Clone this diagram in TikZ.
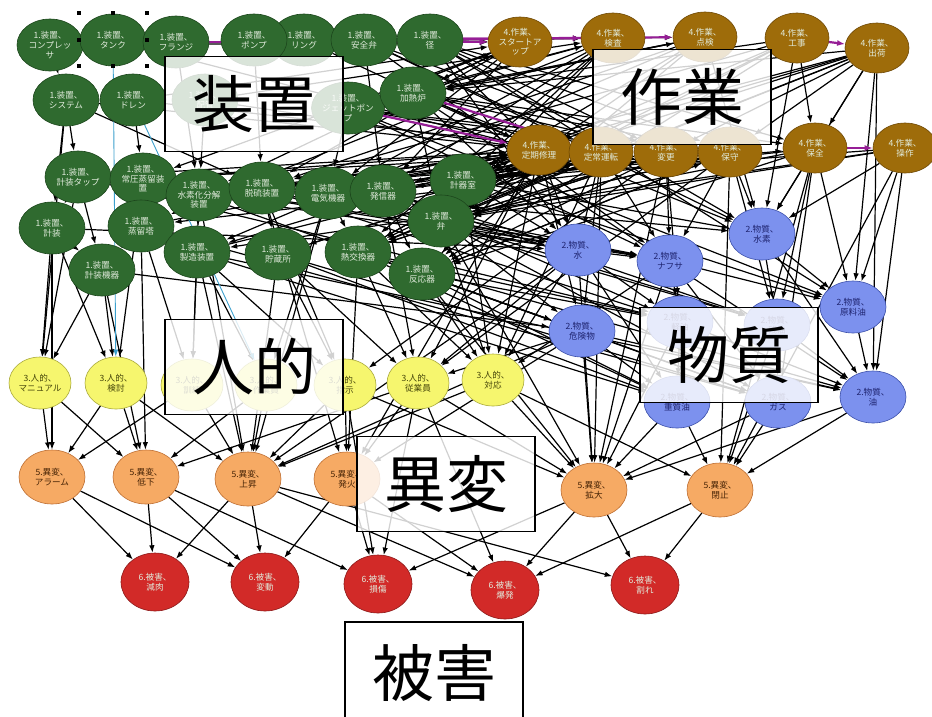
\documentclass[tikz,border=0pt]{standalone}
\usepackage{fontspec}
\newfontfamily\jp{Noto Sans CJK JP}
\usetikzlibrary{shapes.geometric,arrows.meta}
\definecolor{eqg}{RGB}{47,106,47}
\definecolor{eqd}{RGB}{28,70,28}
\definecolor{wkb}{RGB}{158,108,10}
\definecolor{wkd}{RGB}{110,72,5}
\definecolor{mtb}{RGB}{124,145,238}
\definecolor{mtd}{RGB}{60,80,170}
\definecolor{mtt}{RGB}{30,35,110}
\definecolor{hmy}{RGB}{246,246,110}
\definecolor{hmd}{RGB}{170,170,60}
\definecolor{hmt}{RGB}{70,70,10}
\definecolor{ano}{RGB}{246,170,100}
\definecolor{and}{RGB}{190,110,50}
\definecolor{ant}{RGB}{70,35,5}
\definecolor{dmr}{RGB}{210,42,40}
\definecolor{dmd}{RGB}{140,25,25}
\definecolor{pur}{RGB}{150,30,150}
\definecolor{cya}{RGB}{60,160,205}
\definecolor{ltx}{RGB}{225,235,220}
\newcommand\nlab{\jp\fontsize{8.6}{9.6}\selectfont}
\newcommand\biglab{\jp\fontsize{62}{62}\selectfont}
\pgfdeclarelayer{edges}
\pgfsetlayers{edges,main}
\begin{document}
\begin{tikzpicture}[x=1pt,y=-1pt,
  base/.style={ellipse, inner sep=0pt, align=center, font=\nlab, line width=0.6pt},
  eq/.style={base, draw=eqd, fill=eqg, text=ltx, minimum width=66pt, minimum height=52pt},
  wk/.style={base, draw=wkd, fill=wkb, text=ltx, minimum width=64pt, minimum height=50pt},
  mt/.style={base, draw=mtd, fill=mtb, text=mtt, minimum width=66pt, minimum height=52pt},
  hm/.style={base, draw=hmd, fill=hmy, text=hmt, minimum width=62pt, minimum height=52pt},
  an/.style={base, draw=and, fill=ano, text=ant, minimum width=66pt, minimum height=54pt},
  dm/.style={base, draw=dmd, fill=dmr, text=ltx, minimum width=68pt, minimum height=58pt},
  edge/.style={draw=black, line width=1.2pt, -{Latex[length=7.5pt,width=5.5pt]}},
  pedge/.style={draw=pur, line width=2.2pt, -{Latex[length=8pt,width=6pt]}},
  cedge/.style={draw=cya, line width=0.9pt, -{Latex[length=7pt,width=5pt]}},
  cat/.style={draw=black, line width=1.6pt, fill=white, fill opacity=0.82, text opacity=1,
    minimum width=178pt, minimum height=95pt, inner sep=0pt, font=\biglab, text=black}]
\useasboundingbox (0,0) rectangle (932,716);

% ---- equipment ----
\node[eq] (c1) at (50,45) {1.装置、\\コンプレッ\\サ};
\node[eq] (c2) at (113,40) {1.装置、\\タンク};
\node[eq] (c3) at (176,42) {1.装置、\\フランジ};
\node[eq] (c5) at (304,40) {1.装置、\\リング};
\node[eq] (c4) at (254,40) {1.装置、\\ポンプ};
\node[eq] (c6) at (364,40) {1.装置、\\安全弁};
\node[eq] (c7) at (430,40) {1.装置、\\径};
\node[eq] (c8) at (66,100) {1.装置、\\システム};
\node[eq] (c9) at (133,100) {1.装置、\\ドレン};
\node[eq] (c10) at (205,100) {1.装置、\\配管};
\node[eq] (c11) at (348,108) {1.装置、\\ジェットポン\\プ};
\node[eq] (c12) at (413,93) {1.装置、\\加熱炉};
\node[eq] (c13) at (78,177) {1.装置、\\計装タップ};
\node[eq] (c14) at (143,179) {1.装置、\\常圧蒸留装\\置};
\node[eq] (c15) at (199,195) {1.装置、\\水素化分解\\装置};
\node[eq] (c16) at (262,188) {1.装置、\\脱硫装置};
\node[eq] (c17) at (328,193) {1.装置、\\電気機器};
\node[eq] (c18) at (383,191) {1.装置、\\発信器};
\node[eq] (c19) at (463,180) {1.装置、\\計器室};
\node[eq] (c20) at (441,221) {1.装置、\\弁};
\node[eq] (c21) at (52,228) {1.装置、\\計装};
\node[eq] (c22) at (141,226) {1.装置、\\蒸留塔};
\node[eq] (c23) at (102,270) {1.装置、\\計装機器};
\node[eq] (c24) at (197,252) {1.装置、\\製造装置};
\node[eq] (c25) at (278,254) {1.装置、\\貯蔵所};
\node[eq] (c26) at (358,252) {1.装置、\\熱交換器};
\node[eq] (c27) at (422,274) {1.装置、\\反応器};

% ---- work ----
\node[wk] (w1) at (520,42) {4.作業、\\スタートア\\ップ};
\node[wk] (w2) at (613,38) {4.作業、\\検査};
\node[wk] (w3) at (705,37) {4.作業、\\点検};
\node[wk] (w4) at (797,38) {4.作業、\\工事};
\node[wk] (w5) at (877,48) {4.作業、\\出荷};
\node[wk] (w6) at (539,150) {4.作業、\\定期修理};
\node[wk] (w7) at (601,152) {4.作業、\\定常運転};
\node[wk] (w8) at (666,152) {4.作業、\\変更};
\node[wk] (w9) at (730,152) {4.作業、\\保守};
\node[wk] (w10) at (815,148) {4.作業、\\保全};
\node[wk] (w11) at (905,148) {4.作業、\\操作};

% ---- material ----
\node[mt] (m1) at (578,250) {2.物質、\\水};
\node[mt] (m2) at (670,261) {2.物質、\\ナフサ};
\node[mt] (m3) at (762,234) {2.物質、\\水素};
\node[mt] (m4) at (853,307) {2.物質、\\原料油};
\node[mt] (m5) at (582,331) {2.物質、\\危険物};
\node[mt] (m6) at (680,322) {2.物質、\\軽油};
\node[mt] (m7) at (777,325) {2.物質、\\残油};
\node[mt] (m8) at (677,402) {2.物質、\\重質油};
\node[mt] (m9) at (778,402) {2.物質、\\ガス};
\node[mt] (m10) at (873,397) {2.物質、\\油};

% ---- human ----
\node[hm] (h1) at (40,383) {3.人的、\\マニュアル};
\node[hm] (h2) at (116,383) {3.人的、\\検討};
\node[hm] (h3) at (192,385) {3.人的、\\訓練};
\node[hm] (h4) at (266,385) {3.人的、\\作業員};
\node[hm] (h5) at (345,385) {3.人的、\\指示};
\node[hm] (h6) at (418,383) {3.人的、\\従業員};
\node[hm] (h7) at (493,380) {3.人的、\\対応};

% ---- anomaly ----
\node[an] (a1) at (52,477) {5.異変、\\アラーム};
\node[an] (a2) at (146,477) {5.異変、\\低下};
\node[an] (a3) at (248,479) {5.異変、\\上昇};
\node[an] (a4) at (347,479) {5.異変、\\発火};
\node[an] (a6) at (594,490) {5.異変、\\拡大};
\node[an] (a7) at (720,490) {5.異変、\\閉止};

% ---- damage ----
\node[dm] (d1) at (155,582) {6.被害、\\減肉};
\node[dm] (d2) at (265,582) {6.被害、\\変動};
\node[dm] (d3) at (378,584) {6.被害、\\損傷};
\node[dm] (d4) at (505,590) {6.被害、\\爆発};
\node[dm] (d5) at (645,585) {6.被害、\\割れ};

\begin{pgfonlayer}{edges}
\fill[white] (0,0) rectangle (932,716);
% equipment -> work
\foreach \a/\b in {c1/w1,c2/w6,c3/w2,c4/w1,c5/w6,c6/w1,c6/w7,c7/w2,c7/w6,c7/w8,c8/w6,c9/w7,c10/w6,
  c11/w1,c11/w6,c11/w7,c12/w6,c12/w1,c12/w8,c12/w9,c13/w6,c14/w6,c14/w7,c15/w6,c15/w8,c16/w7,c16/w9,
  c17/w6,c17/w8,c18/w7,c18/w9,c19/w6,c19/w7,c19/w8,c19/w9,c19/w10,c20/w6,c20/w7,c20/w9,c22/w6,
  c24/w7,c26/w8,c27/w9,c6/w2,c7/w3,c12/w2,c11/w3,c10/w2,c9/w1,
  c7/w9,c7/w10,c6/w8,c12/w10,c11/w8,c11/w9,c18/w6,c17/w7,c20/w8,c27/w6,c26/w6,c25/w7,c16/w6}
  \draw[edge] (\a) -- (\b);
% work -> others
\foreach \a/\b in {w1/c11,w1/c12,w2/c19,w3/c19,w4/c19,w5/c19,w5/c20,w4/c20,w3/c12,w5/m3,w5/m4,w5/m10,
  w11/m4,w11/m10,w11/m3,w10/m4,w10/m9,w10/m7,w10/m3,w9/m3,w9/m7,w8/m2,w8/m6,w7/m2,w7/m1,w6/m1,w6/m5,
  w7/m5,w9/m2,w4/m3,w3/m3,w4/w10,w5/w10,w5/w9,w6/h7,w6/h6,w7/h7,w7/a6,w8/a6,w9/a7,w10/a7,w6/a4,
  w8/h5,w9/h6,w11/a7,w1/c15,w2/c17,w3/c20,w4/c26,w5/c27,w5/c26,w2/c18,w1/c14,w3/c16,w5/c17,w11/c24,
  w10/c22,w6/c16,w7/c17,w8/c18,w9/c19,w10/c27,w11/c20,w6/c24,w7/c25,w8/c26,w9/c27,w4/c16,w2/c22,w3/c24,
  w1/c16,w1/c17,w1/c18,w2/c20,w2/c26,w3/c27,w4/c27,w5/c18,w6/c26,w6/c27,w7/c26,w8/c20,w9/c20,w10/c20,
  w11/c19,w4/c12,w5/c12,w3/c11,w2/c11}
  \draw[edge] (\a) -- (\b);
% equipment -> equipment
\foreach \a/\b in {c8/c13,c8/c21,c8/c16,c13/c23,c1/c8,c9/c14,c14/c22,c15/c24,c16/c25,c17/c26,c18/c27,
  c13/c21,c22/c23,c12/c20,c11/c17,c6/c18,c4/c16,c3/c15,c10/c15,c21/c23}
  \draw[edge] (\a) -- (\b);
% equipment -> material
\foreach \a/\b in {c15/m1,c16/m2,c17/m3,c18/m1,c19/m3,c20/m2,c26/m5,c27/m5,c24/m8,c25/m8,c12/m3,c7/m4,
  c11/m4,c6/m2,c14/m1,c13/m6,c22/m9,c18/m7,c20/m9,c27/m8,c26/m6,c24/m10,c19/m4,c12/m10,c17/m7,c16/m6,
  c15/m5,c25/m9,c23/m5,c21/m1,c14/m2,c20/m7,c27/m9,c26/m10,
  c19/m1,c20/m1,c20/m5,c27/m6,c26/m8,c18/m6,c17/m2,c12/m1,c7/m3,c6/m3,c11/m2,c7/m1}
  \draw[edge] (\a) -- (\b);
% equipment -> human / anomaly
\foreach \a/\b in {c21/h1,c13/h1,c23/h2,c8/h1,c22/h3,c24/h4,c25/h5,c26/h6,c27/h7,c20/h7,c16/h5,
  c15/h3,c18/h6,c23/h1,c17/h4,c14/h2,c24/h3,c25/h6,c19/h7,c21/a1,c23/a2,c24/a3,c25/a3,c22/a2,c26/a4,
  c27/a6,c20/a6,c17/a3,c15/a3,c16/a4,c21/h2,c24/h5,c26/h7}
  \draw[edge] (\a) -- (\b);
% material -> material / human / anomaly
\foreach \a/\b in {m1/m2,m3/m4,m2/m4,m1/m6,m2/m6,m5/m8,m5/m9,m6/m8,m7/m9,m7/m10,m4/m10,m3/m10,m1/m8,
  m2/m9,m5/m10,m3/m7,m6/m10,m1/h7,m5/h6,m2/h7,m1/a6,m5/a6,m5/a3,m6/a6,m8/a6,m8/a7,m9/a7,m9/a6,m10/a7,
  m10/a6,m7/a7,m2/a6,m1/a3,m5/a4,m1/h6}
  \draw[edge] (\a) -- (\b);
% human -> anomaly
\foreach \a/\b in {h1/a1,h2/a1,h2/a2,h2/a3,h3/a1,h3/a3,h4/a2,h4/a3,h5/a3,h5/a4,h6/a4,h6/a2,h7/a6,
  h7/a3,h7/a7,h6/a6,h1/a2,h5/a6}
  \draw[edge] (\a) -- (\b);
% anomaly -> damage
\foreach \a/\b in {a1/d1,a1/d2,a2/d1,a2/d2,a3/d1,a3/d2,a3/d4,a4/d2,a4/d3,a4/d4,a6/d4,a6/d5,a7/d5,
  a7/d4,a3/d5,a2/d3,h5/d3,h6/d3,h6/d4,a6/d3}
  \draw[edge] (\a) -- (\b);
% purple
\foreach \a/\b in {c3/w1,c4/w2,c5/w3,c11/w6,c12/w7,c4/w1,w4/w5,w10/w11}
  \draw[pedge] (\a) -- (\b);
% cyan
\draw[cedge] (c2) -- (h2);
\draw[cedge] (c9) -- (h4);
\end{pgfonlayer}

% selection handles
\foreach \p in {(79,13),(113,13),(147,13),(79,40),(147,40),(79,66),(113,66),(147,66)}
  \fill[black] \p ++(-1.8,-1.8) rectangle ++(3.6,3.6);

% category labels
\node[cat] (L1) at (254,104) {装置};
\node[cat] (L2) at (682,97) {作業};
\node[cat] (L3) at (254,367) {人的};
\node[cat] (L4) at (729,355) {物質};
\node[cat] (L5) at (446,484) {異変};
\node[cat, minimum height=102pt] (L6) at (434,673) {被害};
\end{tikzpicture}
\end{document}
